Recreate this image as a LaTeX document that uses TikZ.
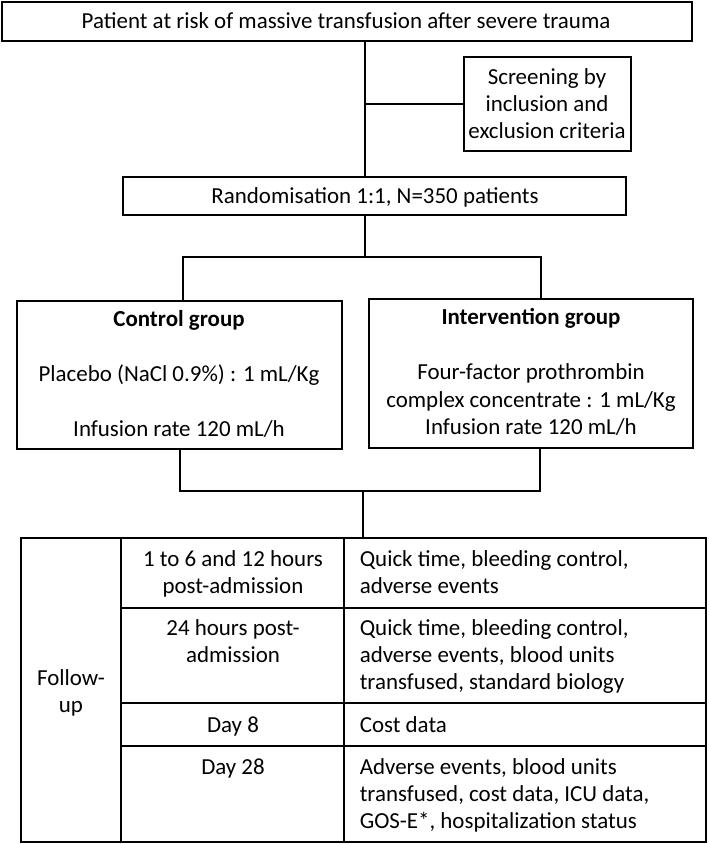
\documentclass[tikz,border=0pt]{standalone}
\usepackage{fontspec}
\setmainfont{Carlito}
\usetikzlibrary{fit}
\begin{document}
\begin{tikzpicture}[x=0.75pt,y=-0.75pt, line width=1.2pt,
  box/.style={draw, inner sep=0pt, rectangle},
  txt/.style={inner sep=0pt, anchor=base, align=center, font=\fontsize{17.2}{20.25}\selectfont},
  ltxt/.style={inner sep=0pt, anchor=base west, align=left, font=\fontsize{17.2}{20.25}\selectfont}]
\useasboundingbox (0,0) rectangle (709,844);

% boxes
\node[box, fit={(2,2) (692,41)}] (top) {};
\node[box, fit={(464,57) (631,151)}] (screen) {};
\node[box, fit={(123,177) (626,215)}] (rand) {};
\node[box, fit={(17,301) (342,449)}] (ctrl) {};
\node[box, fit={(369,299) (693,448)}] (intv) {};
\node[box, fit={(21,538) (706,842)}] (table) {};
% table cells
\node[box, fit={(21,538) (121,842)}] (fu) {};
\node[box, fit={(121,538) (344,608)}] (t1) {};
\node[box, fit={(344,538) (706,608)}] (d1) {};
\node[box, fit={(121,608) (344,703)}] (t2) {};
\node[box, fit={(344,608) (706,703)}] (d2) {};
\node[box, fit={(121,703) (344,746)}] (t3) {};
\node[box, fit={(344,703) (706,746)}] (d3) {};
\node[box, fit={(121,746) (344,842)}] (t4) {};
\node[box, fit={(344,746) (706,842)}] (d4) {};

% texts (multi-line nodes are placed by the baseline of their last line)
\node[txt] (toptxt) at (346,28) {Patient at risk of massive transfusion after severe trauma};
\node[txt] (scrtxt) at (547,138) {Screening by\\inclusion and\\exclusion criteria};
\node[txt] (randtxt) at (375,203) {Randomisation 1:1, N=350 patients};
\node[txt, font=\fontsize{17.2}{20.25}\selectfont\bfseries] (ctrlhead) at (179,326) {Control group};
\node[txt] (ctrlA) at (179,381) {Placebo (NaCl 0.9\%) : 1 mL/Kg};
\node[txt] (ctrlB) at (179,436) {Infusion rate 120 mL/h};
\node[txt, font=\fontsize{17.2}{20.25}\selectfont\bfseries] (intvhead) at (531,324) {Intervention group};
\node[txt] (intvA) at (531,379) {Four-factor prothrombin};
\node[txt] (intvB) at (531,407.5) {complex concentrate : 1 mL/Kg};
\node[txt] (intvC) at (531,434) {Infusion rate 120 mL/h};

\node[txt] (futxt) at (71,712) {Follow-\\up};
\node[txt] (t1txt) at (233,593) {1 to 6 and 12 hours\\post-admission};
\node[txt] (t2txt) at (233,662) {24 hours post-\\admission};
\node[txt] (t3txt) at (233,732) {Day 8};
\node[txt] (t4txt) at (233,774) {Day 28};
\node[ltxt] (d1txt) at (359,593) {Quick time, bleeding control,\\adverse events};
\node[ltxt] (d2txt) at (359,689) {Quick time, bleeding control,\\adverse events, blood units\\transfused, standard biology};
\node[ltxt] (d3txt) at (359,732) {Cost data};
\node[ltxt] (d4txt) at (359,828) {Adverse events, blood units\\transfused, cost data, ICU data,\\GOS-E*, hospitalization status};

% connectors
\coordinate (vx) at (365,0);
\coordinate (L1) at (183,257);
\coordinate (R1) at (541,257);
\coordinate (L2) at (180,491);
\coordinate (R2) at (540,491);
\coordinate (M2) at (363,491);
\draw (top.south -| vx) -- (rand.north -| vx);
\draw (screen.west) -- (screen.west -| vx);
\draw (rand.south -| vx) -- (L1 -| vx);
\draw (ctrl.north -| L1) -- (L1) -- (R1) -- (intv.north -| R1);
\draw (ctrl.south -| L2) -- (L2) -- (R2) -- (intv.south -| R2);
\draw (M2) -- (table.north -| M2);
\end{tikzpicture}
\end{document}
